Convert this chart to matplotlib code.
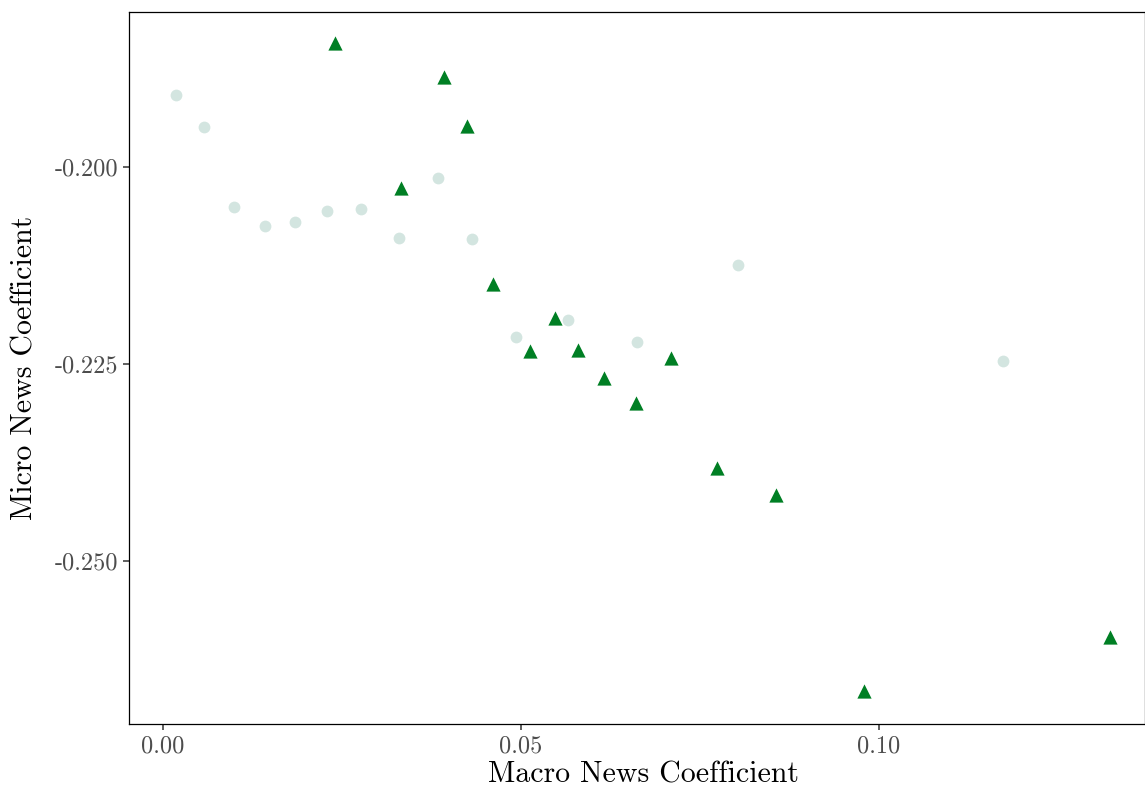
import matplotlib
matplotlib.use("Agg")
import matplotlib.pyplot as plt

# Light circles (other series)
circle_x = [0.00182, 0.00573, 0.00992, 0.01425, 0.01844, 0.02291, 0.02765, 0.03296,
            0.03841, 0.04316, 0.04930, 0.05656, 0.06620, 0.08031, 0.11732]
circle_y = [-0.19086, -0.19492, -0.20508, -0.20749, -0.20698, -0.20558, -0.20533, -0.20901,
            -0.20140, -0.20914, -0.22157, -0.21942, -0.22221, -0.21244, -0.22462]

# Green triangles (highlighted series)
tri_x = [0.02402, 0.03925, 0.04246, 0.03324, 0.04609, 0.05475, 0.05126, 0.05796,
         0.06159, 0.06606, 0.07095, 0.07737, 0.08562, 0.09791, 0.13226]
tri_y = [-0.18426, -0.18858, -0.19480, -0.20266, -0.21485, -0.21916, -0.22335, -0.22322,
         -0.22678, -0.22995, -0.22424, -0.23820, -0.24162, -0.26650, -0.25964]

x_ticks = [0.00, 0.05, 0.10]
x_labels = ["0.00", "0.05", "0.10"]
y_ticks = [-0.250, -0.225, -0.200]
y_labels = ["-0.250", "-0.225", "-0.200"]

plt.rcParams['font.family'] = ['cmr10', 'DejaVu Serif']
plt.rcParams['axes.unicode_minus'] = False

fig = plt.figure(figsize=(11.45, 7.88), dpi=100)
ax = fig.add_axes([129/1145, 64/788, 1016/1145, 712/788])

ax.scatter(circle_x, circle_y, s=72, marker='o', color='#d3e5e0', linewidths=0, zorder=2)
ax.scatter(tri_x, tri_y, s=105, marker='^', color='#007f24', linewidths=0, zorder=3)

ax.set_xlim(-0.00475, 0.13715)
ax.set_ylim(-0.27069, -0.18033)

ax.set_xticks(x_ticks)
ax.set_xticklabels(x_labels)
ax.set_yticks(y_ticks)
ax.set_yticklabels(y_labels)

ax.tick_params(axis='both', length=4, width=1.1, color='#333333',
               labelcolor='#4d4d4d', labelsize=17.5, pad=4)
for sp in ax.spines.values():
    sp.set_linewidth(0.9)
    sp.set_color('black')

ax.set_xlabel("Macro News Coefficient", fontsize=21.5)
ax.xaxis.set_label_coords(0.506, -0.052, transform=ax.transAxes)
ax.xaxis.label.set_va('top')
ax.set_ylabel("Micro News Coefficient", fontsize=21.5, labelpad=11)

fig.savefig("out.png", dpi=100)
